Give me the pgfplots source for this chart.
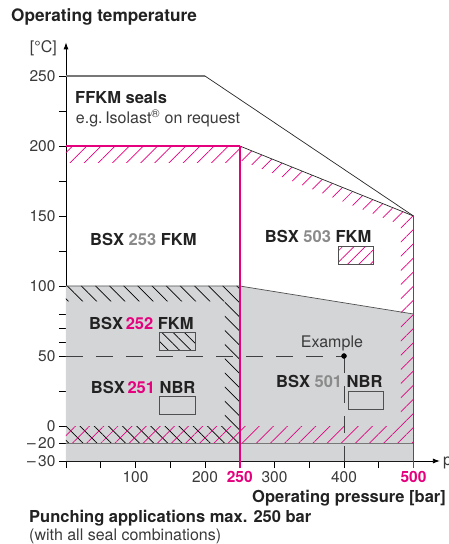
\documentclass[border=0pt]{standalone}
\usepackage{fontspec}
\setmainfont{TeX Gyre Heros}
\usepackage{pgfplots}
\pgfplotsset{compat=1.18}
\usetikzlibrary{arrows.meta,patterns.meta}
\definecolor{pm}{HTML}{E5007D}
\definecolor{fillgray}{HTML}{D4D5D7}
\definecolor{numgray}{HTML}{8A8A8A}
\definecolor{txt}{HTML}{222222}
\definecolor{tickc}{HTML}{3A3A3A}
\definecolor{linegray}{HTML}{777777}
\definecolor{boxc}{HTML}{505050}
\newcommand\fs{\fontsize{16}{19}\selectfont}
\newcommand\fb{\fontsize{16.5}{19}\selectfont\bfseries}
\begin{document}
\begin{tikzpicture}
\useasboundingbox (-66pt,-83pt) rectangle (383pt,461pt);
\begin{axis}[
  at={(0pt,0pt)}, anchor=south west,
  x=0.695pt, y=1.4pt,
  xmin=0, xmax=538, ymin=-25, ymax=274,
  enlargelimits=false, clip=false,
  axis x line=bottom, axis y line=left,
  axis line style={line width=0.8pt, black},
  x axis line style={-{Latex[length=7pt,width=5pt]}},
  y axis line style={-{Latex[length=7pt,width=5pt]}},
  tick align=outside, major tick length=7pt,
  tick style={line width=0.8pt, black},
  /pgf/number format/assume math mode=true,
  tick label style={font=\fontsize{15.5}{18}\selectfont, text=tickc},
  xtick={0,50,100,150,200,250,300,350,400,450,500},
  xticklabels={{},{},100,{},200,{\textcolor{pm}{\bfseries 250}},300,{},400,{},{\textcolor{pm}{\bfseries 500}}},
  ytick={-25,-12.5,0,25,50,60,70,80,100,125,150,175,200,225,250},
  yticklabels={{\textendash\,30},{\textendash\,20},0,{},50,{},{},{},100,{},150,{},200,{},250},
]
% gray NBR region
\addplot[draw=none, fill=fillgray] coordinates {(0,100) (250,100) (500,80) (500,-25) (0,-25)} -- cycle;
% black hatch (BSX 252 FKM)
\addplot[draw=none, pattern={Lines[angle=-45,distance=10pt,line width=0.7pt]}, pattern color=black]
  coordinates {(0,100) (250,100) (250,-12.5) (0,-12.5) (0,0) (228.5,0) (228.5,89) (0,89)} -- cycle;
% magenta hatch (BSX 503 FKM)
\addplot[draw=none, pattern={Lines[angle=45,distance=10pt,line width=0.7pt]}, pattern color=pm]
  coordinates {(0,200) (250,200) (250,188) (0,188)} -- cycle;
\addplot[draw=none, pattern={Lines[angle=45,distance=10pt,line width=0.7pt]}, pattern color=pm]
  coordinates {(250,200) (500,150) (500,-12.5) (0,-12.5) (0,0) (482,0) (482,143.6) (250,190)} -- cycle;
% region boundaries
\addplot[draw=boxc, line width=0.7pt] coordinates {(0,100) (250,100) (500,80)};
\addplot[draw=linegray, line width=1.5pt] coordinates {(0,250) (200,250)};
\addplot[draw=black!85, line width=0.7pt] coordinates {(200,250) (500,150)};
\addplot[draw=black!85, line width=0.7pt] coordinates {(250,200) (500,150)};
\addplot[draw=pm, line width=1.2pt] coordinates {(0,200) (250,200)};
\addplot[draw=linegray, line width=1.8pt] coordinates {(0,-12.5) (500,-12.5)};
\addplot[draw=pm, line width=1.5pt] coordinates {(250,200) (250,-30)};
\addplot[draw=pm, line width=1.5pt] coordinates {(500,150) (500,-30)};
% example
\addplot[draw=black!75, line width=0.8pt, dash pattern=on 17pt off 13pt] coordinates {(0,50) (400,50)};
\addplot[draw=black!75, line width=0.8pt, dash pattern=on 17pt off 13pt] coordinates {(400,50) (400,-25)};
\addplot[only marks, mark=*, mark size=2.5pt, black] coordinates {(400,50)};
% legend boxes
\addplot[draw=boxc, line width=0.8pt, fill=white, postaction={pattern={Lines[angle=45,distance=8pt,line width=0.7pt]}, pattern color=pm}]
  coordinates {(392,115.5) (442,115.5) (442,128) (392,128)} -- cycle;
\addplot[draw=boxc, line width=0.8pt, pattern={Lines[angle=-45,distance=8pt,line width=0.7pt]}, pattern color=black]
  coordinates {(135,54) (186.5,54) (186.5,67) (135,67)} -- cycle;
\addplot[draw=boxc, line width=0.8pt] coordinates {(135,8.6) (186.5,8.6) (186.5,21.4) (135,21.4)} -- cycle;
\addplot[draw=boxc, line width=0.8pt] coordinates {(407,12) (457,12) (457,24.5) (407,24.5)} -- cycle;
% texts
\node[anchor=base west, font=\fb, text=txt, inner sep=0pt] at (axis cs:13,230) {FFKM seals};
\node[anchor=base west, font=\fs, text=tickc, inner sep=0pt] at (axis cs:14,216) {e.g.\,Isolast\textsuperscript{\textregistered} on request};
\node[anchor=base west, font=\fb, text=txt, inner sep=0pt] at (axis cs:34.5,129) {BSX \textcolor{numgray}{253} FKM};
\node[anchor=base west, font=\fb, text=txt, inner sep=0pt] at (axis cs:286,131) {BSX \textcolor{numgray}{503} FKM};
\node[anchor=base west, font=\fb, text=txt, inner sep=0pt] at (axis cs:33,69) {BSX\,\textcolor{pm}{252} FKM};
\node[anchor=base west, font=\fb, text=txt, inner sep=0pt] at (axis cs:35.5,23.3) {BSX\,\textcolor{pm}{251} NBR};
\node[anchor=base west, font=\fb, text=txt, inner sep=0pt] at (axis cs:302,27.6) {BSX \textcolor{numgray}{501} NBR};
\node[anchor=base west, font=\fs, text=tickc, inner sep=0pt] at (axis cs:337.7,56.2) {Example};
\end{axis}
\node[anchor=west, font=\fontsize{17.2}{20}\selectfont\bfseries, text=txt, inner sep=0pt] at (-55pt,444pt) {Operating temperature};
\node[anchor=east, font=\fs, text=tickc, inner sep=0pt] at (-9pt,413pt) {[°C]};
\node[anchor=base west, font=\fs, text=tickc, inner sep=0pt] at (377pt,-5pt) {p};
\node[anchor=west, font=\fb, text=txt, inner sep=0pt] at (186pt,-37pt) {Operating pressure [bar]};
\node[anchor=west, font=\fb, text=txt, inner sep=0pt] at (-37pt,-57pt) {Punching applications max. 250 bar};
\node[anchor=west, font=\fs, text=tickc, inner sep=0pt] at (-37pt,-75.7pt) {(with all seal combinations)};
\end{tikzpicture}
\end{document}
